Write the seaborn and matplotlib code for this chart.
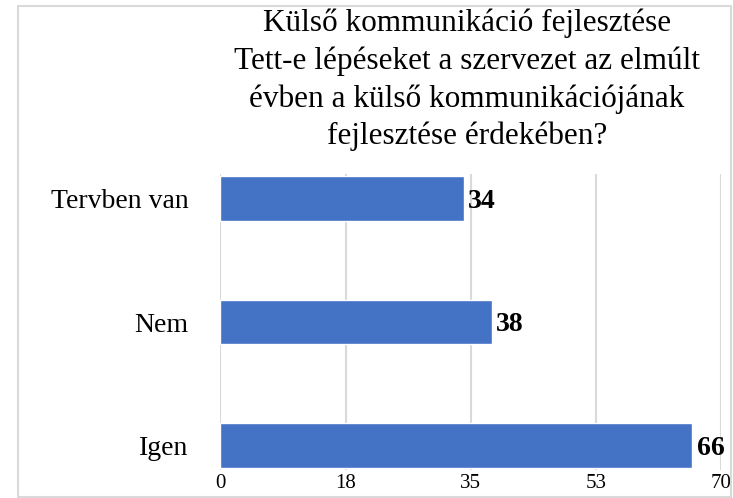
import matplotlib.pyplot as plt
import seaborn as sns
from matplotlib.patches import Rectangle

# Adatok
categories = ["Tervben van", "Nem", "Igen"]
values = [34, 38, 66]
tick_values = [0, 17.5, 35, 52.5, 70]
tick_labels = ["0", "18", "35", "53", "70"]
title = ("Külső kommunikáció fejlesztése\n"
         "Tett-e lépéseket a szervezet az elmúlt\n"
         "évben a külső kommunikációjának\n"
         "fejlesztése érdekében?")

sns.set_style("white")
plt.rcParams["font.family"] = ["Liberation Serif", "DejaVu Serif"]
plt.rcParams["text.color"] = "black"
plt.rcParams["xtick.color"] = "black"
plt.rcParams["ytick.color"] = "black"

fig = plt.figure(figsize=(7.33, 4.98), dpi=100)
ax = fig.add_axes([0.3008, 0.0562, 0.6828, 0.5944])

sns.barplot(x=values, y=categories, orient="h", color="#4472C4",
            width=0.36, saturation=1, ax=ax, zorder=3)

ax.set_xlim(0, 70)
ax.set_ylim(2.2, -0.2)
ax.set_xticks(tick_values)
ax.set_xticklabels(tick_labels)
ax.xaxis.grid(True, color="#d9d9d9", linewidth=1.5, zorder=0)
ax.set_axisbelow(True)
for s in ax.spines.values():
    s.set_visible(False)
ax.tick_params(axis="y", length=0, pad=23, labelsize=20, labelcolor="black")
ax.tick_params(axis="x", length=0, pad=3, labelsize=15, labelcolor="black")
ax.set_xlabel("")
ax.set_ylabel("")

# Értékcímkék
for i, v in enumerate(values):
    ax.annotate(str(v), (v, i), xytext=(3, -2), textcoords="offset points",
                va="center", ha="left", fontsize=20, fontweight="bold",
                color="black")

fig.text(0.637, 0.982, title, ha="center", va="top", fontsize=22.5,
         linespacing=1.36, multialignment="center", color="black")

# Keret
fig.patches.append(Rectangle((18 / 733, 1 / 498), 713 / 733, 491 / 498,
                             transform=fig.transFigure, fill=False,
                             edgecolor="#d9d9d9", linewidth=1.5))

fig.savefig("out.png", dpi=100)
